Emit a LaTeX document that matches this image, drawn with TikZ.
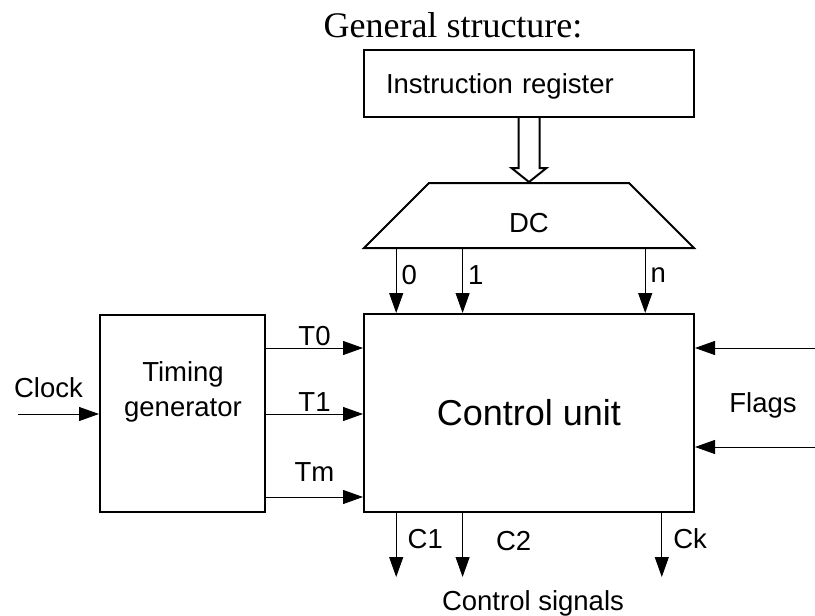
\documentclass[tikz,border=0pt]{standalone}
\usepackage{fontspec}
\setmainfont{Liberation Sans}
\newfontfamily\titlefont{Liberation Serif}
\usetikzlibrary{arrows.meta,shapes.geometric,calc}

\begin{document}
\begin{tikzpicture}[x=1pt, y=-1pt,
    every node/.style={font=\fontsize{27.5}{35}\selectfont},
    block/.style={draw, line width=2pt, inner sep=0pt},
    sig/.style={line width=1pt, -{Triangle[length=20pt,width=14pt]}}]
  \useasboundingbox (0,0) rectangle (815,616);

  % Title
  \node (title) at (453,25) {\titlefont\fontsize{36}{40}\selectfont General structure:};

  % Instruction register, decoder and hollow bus arrow
  \node[block, minimum width=330pt, minimum height=67pt, text width=286pt,
        inner xsep=22pt, align=left, text depth=0pt] (ir) at (529,83.5) {Instruction register};
  \node[block, trapezium, trapezium angle=45, trapezium stretches body=true,
        minimum width=330pt, minimum height=65pt, inner xsep=1pt, inner ysep=15.5pt,
        text height=34pt, text depth=0pt] (dc) at (529,215.5) {DC};
  \draw[line width=2pt] ($(ir.south)+(-10.5,0)$) -- ++(0,50) -- ++(-7,0) -- (dc.north)
    -- ($(ir.south)+(17.5,50)$) -- ++(-7,0) -- ++(0,-50);

  % Control unit and timing generator
  \node[block, minimum width=330pt, minimum height=198pt,
        font=\fontsize{36}{40}\selectfont] (cu) at (529,413) {Control unit};
  \node[block, minimum width=165pt, minimum height=197pt] (tg) at (182.5,413.5) {};
  \node[align=center] (tgtext) at (183,392) {Timing\\generator};

  % Decoder outputs
  \foreach \f/\t in {0.1/0, 0.3/1, 0.85/n} {
    \coordinate (d\t) at ($(cu.north west)!\f!(cu.north east)$);
    \draw[sig] (dc.south -| d\t) -- (d\t) node[pos=0.4, right, inner sep=5pt] (l\t) {\t};
  }

  % Timing signals
  \foreach \y/\t/\r in {348/T0/1, 414/T1/1, 497/Tm/14} {
    \draw[sig] (tg.east |- 0,\y) -- (cu.west |- 0,\y)
      node[midway, above=\r pt, inner sep=1pt] (\t) {\t};
  }

  % Clock input
  \coordinate (clk) at (18,414);
  \draw[sig] (clk) -- (tg.west |- clk);
  \node (clock) at (48.5,388) {Clock};

  % Flags
  \coordinate (f1) at (815,348);
  \coordinate (f2) at (815,447);
  \draw[sig] (f1) -- (cu.east |- f1);
  \draw[sig] (f2) -- (cu.east |- f2);
  \node (flags) at (763,405) {Flags};

  % Control signals
  \foreach \f/\c/\s/\p in {0.1/C1/6/0.4, 0.3/C2/28/0.44, 0.9/Ck/6/0.4} {
    \coordinate (o\c) at ($(cu.south west)!\f!(cu.south east)+(0,64)$);
    \draw[sig] (cu.south -| o\c) -- (o\c)
      node[pos=\p, right, inner sep=5pt, xshift=\s pt] (\c) {\c};
  }
  \node (cs) at (533,603) {Control signals};
\end{tikzpicture}
\end{document}
